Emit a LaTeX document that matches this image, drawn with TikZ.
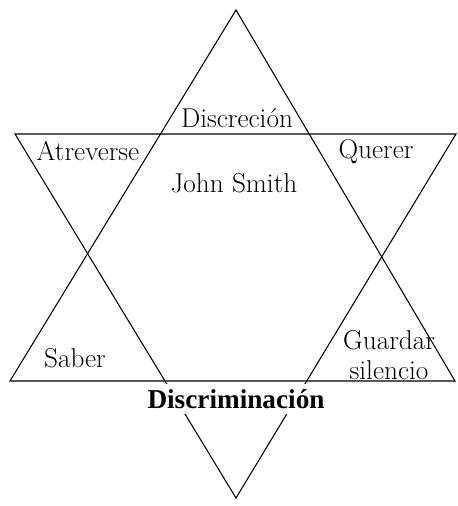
\documentclass[tikz,border=0pt]{standalone}
\usepackage{fontspec}
\newfontfamily\titlefont{Liberation Serif}
\usetikzlibrary{positioning}
\tikzset{
    star/.style={draw=black, line width=0.6pt, line join=miter},
    tag/.style={font=\fontsize{15.5}{17}\selectfont, inner sep=1pt, align=center},
    heading/.style={font=\titlefont\bfseries\fontsize{15.5}{17}\selectfont, fill=white, inner sep=3pt}
}

\begin{document}
\begin{tikzpicture}[x=0.02cm, y=-0.02cm]
    \useasboundingbox (0,0) rectangle (457,506);
    % corners of the two triangles
    \coordinate (uptop) at (236,10);
    \coordinate (upleft) at (10,381);
    \coordinate (upright) at (455,381);
    \coordinate (dnleft) at (15,134);
    \coordinate (dnright) at (456,134);
    \coordinate (dnbot) at (236,498);

    \draw [star] (uptop) -- (upleft) -- (upright) -- cycle;
    \draw [star] (dnleft) -- (dnright) -- (dnbot) -- cycle;

    \node (discrecion) [tag] at (237,118) {Discreción};
    \node (atreverse) [tag] at (88,151) {Atreverse};
    \node (querer) [tag] at (376,152) {Querer};
    \node (john) [tag] at (234,183) {John Smith};
    \node (saber) [tag] at (75,358) {Saber};
    \node (guardar) [tag] at (389,355) {Guardar\\silencio};
    \node (discrim) [heading] at (236,399) {Discriminación};
\end{tikzpicture}
\end{document}
